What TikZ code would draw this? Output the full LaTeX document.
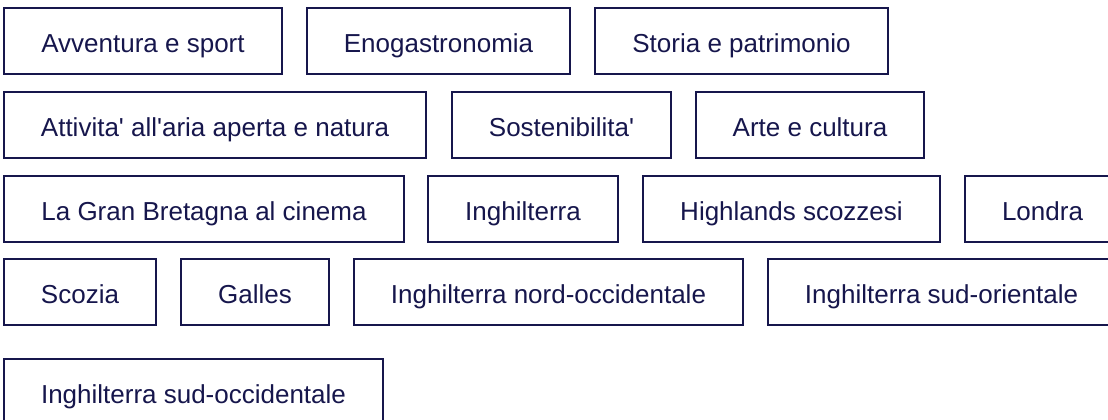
\documentclass[tikz,border=0pt]{standalone}
\usepackage{fontspec}
\setmainfont{Liberation Sans}
\definecolor{navy}{RGB}{22,22,76}
\newcommand{\aps}{\textquotesingle}
\begin{document}
\begin{tikzpicture}[x=1bp,y=-1bp,
  tag/.style={draw=navy, line width=2bp, text=navy, anchor=north west,
    minimum height=66bp, inner sep=0pt, outer sep=0pt,
    text height=23.4bp, text depth=0pt,
    font=\fontsize{26bp}{30bp}\selectfont}]
\useasboundingbox (0,0) rectangle (1108,419);
\clip (0,0) rectangle (1108,419);
% row 1
\node[tag, minimum width=278bp] (avv) at (4,7.5) {Avventura e sport};
\node[tag, minimum width=263bp] (eno) at (307,7.5) {Enogastronomia};
\node[tag, minimum width=293bp] (sto) at (595,7.5) {Storia e patrimonio};
% row 2
\node[tag, minimum width=422bp] (att) at (4,92) {Attivita\aps{} all\aps{}aria aperta e natura};
\node[tag, minimum width=219bp] (sos) at (452,92) {Sostenibilita\aps};
\node[tag, minimum width=228bp] (arte) at (696,92) {Arte e cultura};
% row 3
\node[tag, minimum width=400bp] (cin) at (4,175.5) {La Gran Bretagna al cinema};
\node[tag, minimum width=190bp] (ing) at (428,175.5) {Inghilterra};
\node[tag, minimum width=297bp] (hig) at (643,175.5) {Highlands scozzesi};
\node[tag, minimum width=155bp] (lon) at (965,175.5) {Londra};
% row 4
\node[tag, minimum width=152bp] (sco) at (4,259) {Scozia};
\node[tag, minimum width=148bp] (gal) at (181,259) {Galles};
\node[tag, minimum width=389bp] (nw) at (354,259) {Inghilterra nord-occidentale};
\node[tag, minimum width=347bp] (se) at (768,259) {Inghilterra sud-orientale};
% row 5
\node[tag, minimum width=379bp] (sw) at (4,359) {Inghilterra sud-occidentale};
\end{tikzpicture}
\end{document}
